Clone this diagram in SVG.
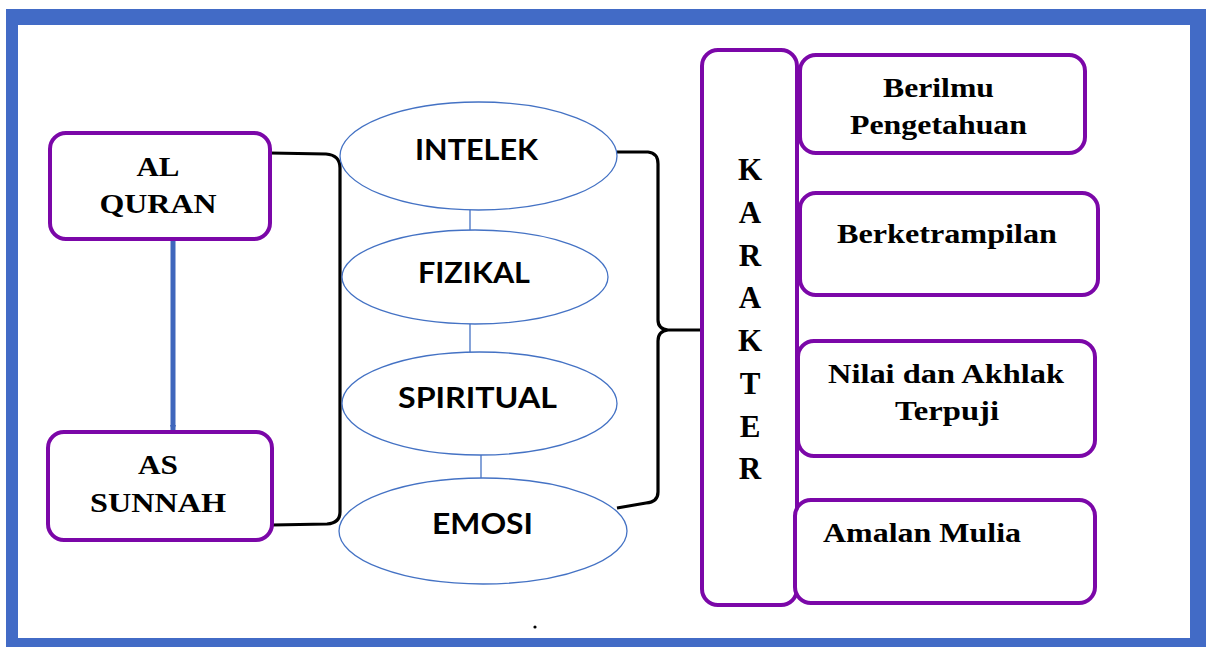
<svg xmlns="http://www.w3.org/2000/svg" width="1206" height="647" viewBox="0 0 1206 647">
<defs>
<style>
.box{fill:#fff;stroke:#7B07A8;stroke-width:4}
.ell{fill:#fff;stroke:#4472C4;stroke-width:1.3}
.t{font-family:"Liberation Serif","Times New Roman",serif;font-weight:bold;font-size:28px;fill:#000;text-anchor:middle}
.k{font-family:"Liberation Serif","Times New Roman",serif;font-weight:bold;font-size:31px;fill:#000;text-anchor:middle}
.e{font-family:Lato,"Open Sans",sans-serif;font-weight:bold;font-size:29px;fill:#000;text-anchor:middle}
.br{fill:none;stroke:#000;stroke-width:3.2}
.thin{stroke:#4472C4;stroke-width:1.3}
</style>
<marker id="ah" markerWidth="8" markerHeight="6" refX="7" refY="3" orient="auto" markerUnits="userSpaceOnUse">
<path d="M0,0 L8,3 L0,6 z" fill="#3F66BC"/>
</marker>
</defs>
<rect x="0" y="0" width="1206" height="647" fill="#fff"/>
<rect x="6" y="9" width="1200" height="638" fill="#426BC6"/>
<rect x="18" y="25" width="1172" height="613" fill="#fff"/>

<g id="connectors">
<line x1="173" y1="239" x2="173" y2="432" stroke="#3F66BC" stroke-width="5" marker-end="url(#ah)"/>
<path class="br" d="M270,153 L326,154 Q340,155 340,168 L340,512 Q340,523 327,524 L272,525"/>
<path class="br" d="M617,152 L648,152 Q658,153 658,164 L658,320 Q658,329 668,330 L700,330 M668,330 Q658,331 658,341 L658,492 Q658,502 646,503 L617,508"/>
<line class="thin" x1="470" y1="209" x2="470" y2="230"/>
<line class="thin" x1="470" y1="324" x2="470" y2="352"/>
<line class="thin" x1="481" y1="455" x2="481" y2="478"/>
</g>

<g id="alquran">
<rect class="box" x="50" y="133" width="220" height="106" rx="16"/>
<text class="t" x="158" y="176" textLength="43" lengthAdjust="spacingAndGlyphs">AL</text>
<text class="t" x="158" y="213" textLength="117" lengthAdjust="spacingAndGlyphs">QURAN</text>
</g>
<g id="assunnah">
<rect class="box" x="48" y="432" width="224" height="108" rx="16"/>
<text class="t" x="158" y="474" textLength="40" lengthAdjust="spacingAndGlyphs">AS</text>
<text class="t" x="158" y="512" textLength="136" lengthAdjust="spacingAndGlyphs">SUNNAH</text>
</g>

<g id="intelek">
<ellipse class="ell" cx="478.5" cy="156" rx="138.5" ry="54"/>
<text class="e" x="476.5" y="160" textLength="123" lengthAdjust="spacingAndGlyphs">INTELEK</text>
</g>
<g id="fizikal">
<ellipse class="ell" cx="475" cy="277" rx="133" ry="47"/>
<text class="e" x="474" y="283" textLength="112" lengthAdjust="spacingAndGlyphs">FIZIKAL</text>
</g>
<g id="spiritual">
<ellipse class="ell" cx="479.5" cy="403.5" rx="137.5" ry="51.5"/>
<text class="e" x="477.5" y="408" textLength="159" lengthAdjust="spacingAndGlyphs">SPIRITUAL</text>
</g>
<g id="emosi">
<ellipse class="ell" cx="483" cy="531" rx="144" ry="53"/>
<text class="e" x="482.5" y="534" textLength="101" lengthAdjust="spacingAndGlyphs">EMOSI</text>
</g>

<g id="karakter">
<rect class="box" x="702" y="50" width="95" height="555" rx="16"/>
<text class="k" x="750" y="180">K</text>
<text class="k" x="750" y="223">A</text>
<text class="k" x="750" y="266">R</text>
<text class="k" x="750" y="308">A</text>
<text class="k" x="750" y="351">K</text>
<text class="k" x="750" y="394">T</text>
<text class="k" x="750" y="437">E</text>
<text class="k" x="750" y="479">R</text>
</g>

<g id="berilmu">
<rect class="box" x="800" y="55" width="285" height="98" rx="16"/>
<text class="t" x="938.5" y="97" textLength="111" lengthAdjust="spacingAndGlyphs">Berilmu</text>
<text class="t" x="938.5" y="134" textLength="177" lengthAdjust="spacingAndGlyphs">Pengetahuan</text>
</g>
<g id="berketrampilan">
<rect class="box" x="800" y="193" width="298" height="102" rx="16"/>
<text class="t" x="947" y="243" textLength="220" lengthAdjust="spacingAndGlyphs">Berketrampilan</text>
</g>
<g id="nilai">
<rect class="box" x="798" y="341" width="297" height="115" rx="16"/>
<text class="t" x="946" y="383" textLength="236" lengthAdjust="spacingAndGlyphs">Nilai dan Akhlak</text>
<text class="t" x="947" y="420" textLength="104" lengthAdjust="spacingAndGlyphs">Terpuji</text>
</g>
<g id="amalan">
<rect class="box" x="795" y="500" width="300" height="103" rx="16"/>
<text class="t" x="922" y="542" textLength="198" lengthAdjust="spacingAndGlyphs">Amalan Mulia</text>
</g>

<circle cx="535" cy="627" r="1.6" fill="#000"/>
</svg>
